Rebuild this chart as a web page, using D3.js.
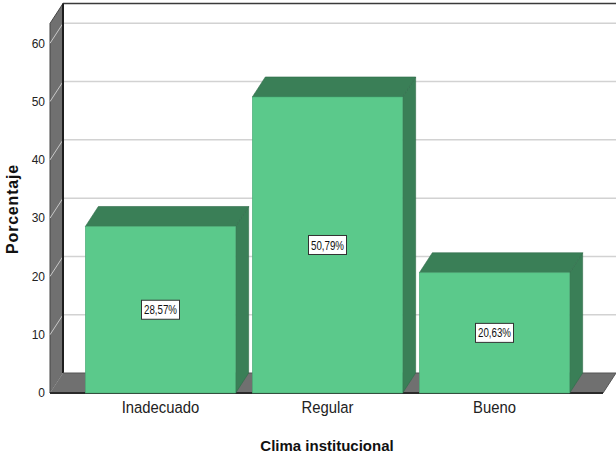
<!DOCTYPE html>
<html>
<head>
<meta charset="utf-8">
<script src="https://cdn.jsdelivr.net/npm/d3@7"></script>
<style>
  html, body { margin: 0; padding: 0; background: #fff; }
  svg { display: block; }
  text { font-family: "Liberation Sans", Arial, sans-serif; }
</style>
</head>
<body>
<svg id="chart" width="616" height="456"></svg>
<script>
// ---- data ----
const categories = ["Inadecuado", "Regular", "Bueno"];
const values = [28.57, 50.79, 20.63];
const valueLabels = ["28,57%", "50,79%", "20,63%"];
const yTicks = [0, 10, 20, 30, 40, 50, 60];
const xTitle = "Clima institucional";
const yTitle = "Porcentaje";

// ---- layout ----
const W = 616, H = 456;
const svg = d3.select("#chart");
const x0 = 50, x1 = 603;          // front floor extent
const dx = 13, dy = -20;          // 3D depth offset
const y = d3.scaleLinear().domain([0, 60]).range([393, 43.3]);
const wallTopV = 63.4;
const x = d3.scaleBand().domain(categories).range([77, 578]).paddingInner(0.1).paddingOuter(0.05);

const wallGray = "#707070", darkLine = "#2b2b2b";
const front = "#5bc98b", dark = "#3a7f57";

// back wall
svg.append("rect").attr("x", x0 + dx).attr("y", y(wallTopV) + dy)
  .attr("width", W).attr("height", y(0) - y(wallTopV)).attr("fill", "#fff");

// gridlines on back wall
svg.append("g").selectAll("line").data(yTicks.filter(d => d > 0)).join("line")
  .attr("x1", x0 + dx).attr("x2", W)
  .attr("y1", d => y(d) + dy).attr("y2", d => y(d) + dy)
  .attr("stroke", "#d2d2d2").attr("stroke-width", 1.5);

// top border of back wall
svg.append("line").attr("x1", x0 + dx).attr("x2", W)
  .attr("y1", y(wallTopV) + dy).attr("y2", y(wallTopV) + dy)
  .attr("stroke", "#3a3a3a").attr("stroke-width", 1.5);

// left wall
svg.append("polygon")
  .attr("points", [[x0, y(wallTopV)], [x0 + dx, y(wallTopV) + dy], [x0 + dx, y(0) + dy], [x0, y(0)]].join(" "))
  .attr("fill", wallGray).attr("stroke", "#444").attr("stroke-width", 1);
// wall diagonals at ticks
svg.append("g").selectAll("line").data(yTicks.filter(d => d > 0)).join("line")
  .attr("x1", x0).attr("x2", x0 + dx)
  .attr("y1", d => y(d)).attr("y2", d => y(d) + dy)
  .attr("stroke", "#c8c8c8").attr("stroke-width", 1);
// back edge of left wall
svg.append("line").attr("x1", x0 + dx).attr("x2", x0 + dx)
  .attr("y1", y(wallTopV) + dy).attr("y2", y(0) + dy)
  .attr("stroke", "#1e1e1e").attr("stroke-width", 2);

// floor
svg.append("polygon")
  .attr("points", [[x0, y(0)], [x0 + dx, y(0) + dy], [x1 + dx, y(0) + dy], [x1, y(0)]].join(" "))
  .attr("fill", wallGray).attr("stroke", "#555").attr("stroke-width", 1);
svg.append("line").attr("x1", x0).attr("x2", x0 + dx).attr("y1", y(0)).attr("y2", y(0) + dy)
  .attr("stroke", "#999").attr("stroke-width", 0.8);
svg.append("line").attr("x1", x0).attr("x2", x1).attr("y1", y(0)).attr("y2", y(0))
  .attr("stroke", darkLine).attr("stroke-width", 2);

// bars
const bw = x.bandwidth();
const bars = svg.append("g").selectAll("g").data(categories.map((c, i) => ({c, v: values[i], l: valueLabels[i]}))).join("g");
bars.append("polygon") // side
  .attr("points", d => { const a = x(d.c) + bw, t = y(d.v);
    return [[a, t], [a + dx, t + dy], [a + dx, y(0) + dy], [a, y(0)]].join(" "); })
  .attr("fill", dark).attr("stroke", "#2f6b49").attr("stroke-width", 0.6);
bars.append("polygon") // top
  .attr("points", d => { const a = x(d.c), t = y(d.v);
    return [[a, t], [a + dx, t + dy], [a + bw + dx, t + dy], [a + bw, t]].join(" "); })
  .attr("fill", dark).attr("stroke", "#2f6b49").attr("stroke-width", 0.6);
bars.append("rect") // front
  .attr("x", d => x(d.c)).attr("y", d => y(d.v))
  .attr("width", bw).attr("height", d => y(0) - y(d.v))
  .attr("fill", front).attr("stroke", "#4aa874").attr("stroke-width", 0.6);

// value labels
const lab = bars.append("g").attr("transform", d => `translate(${x(d.c) + bw / 2},${y(d.v / 2)})`);
lab.append("rect").attr("x", -19).attr("y", -9.5).attr("width", 38).attr("height", 19)
  .attr("fill", "#fff").attr("stroke", "#333").attr("stroke-width", 1);
lab.append("text").attr("text-anchor", "middle").attr("dy", "0.36em")
  .attr("transform", "scale(0.78,1)")
  .attr("font-size", 12.5).attr("fill", "#111").text(d => d.l);

// y axis (labels only)
const yAxis = svg.append("g").attr("transform", `translate(${x0},0)`)
  .call(d3.axisLeft(y).tickValues(yTicks).tickSize(0).tickPadding(5));
yAxis.select(".domain").remove();
yAxis.selectAll("text").attr("font-size", 12).attr("fill", "#222")
  .style("font-family", "'Liberation Sans', Arial, sans-serif");

// x axis (labels only)
const xAxis = svg.append("g").attr("transform", `translate(0,${y(0)})`)
  .call(d3.axisBottom(x).tickSize(0).tickPadding(8));
xAxis.select(".domain").remove();
xAxis.selectAll("text").attr("font-size", 16.5).attr("fill", "#222")
  .attr("transform", "scale(0.9,1)")
  .style("font-family", "'Liberation Sans', Arial, sans-serif");

// titles
svg.append("text").attr("x", 327).attr("y", 451).attr("text-anchor", "middle")
  .attr("font-size", 15).attr("font-weight", "bold").attr("fill", "#111").text(xTitle);
svg.append("text").attr("transform", "translate(18,209) rotate(-90)").attr("text-anchor", "middle")
  .attr("font-size", 16).attr("font-weight", "bold").attr("fill", "#111")
  .attr("letter-spacing", 0.8).text(yTitle);
</script>
</body>
</html>
